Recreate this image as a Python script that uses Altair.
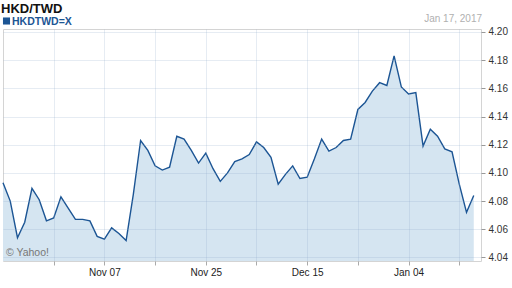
import altair as alt
import pandas as pd

FONT = "Liberation Sans"

# ---- data (one value per trading day, Oct 18 2016 .. Jan 17 2017) ----
day_index = list(range(66))
rate = [4.093, 4.080, 4.054, 4.065, 4.089, 4.081, 4.066, 4.068, 4.083, 4.075,
        4.067, 4.067, 4.066, 4.055, 4.053, 4.061, 4.057, 4.052, 4.085, 4.123,
        4.116, 4.105, 4.102, 4.104, 4.126, 4.124, 4.116, 4.107, 4.114, 4.103,
        4.094, 4.100, 4.108, 4.110, 4.113, 4.122, 4.118, 4.111, 4.092, 4.099,
        4.105, 4.096, 4.097, 4.110, 4.124, 4.1155, 4.118, 4.123, 4.124, 4.145,
        4.150, 4.158, 4.164, 4.162, 4.183, 4.161, 4.156, 4.157, 4.119, 4.131,
        4.126, 4.117, 4.115, 4.092, 4.072, 4.084]

tick_days = [7, 14, 21, 28, 35, 42, 49, 56, 63]
tick_labels = ["", "Nov 07", "", "Nov 25", "", "Dec 15", "", "Jan 04", ""]
y_ticks = [4.04, 4.06, 4.08, 4.10, 4.12, 4.14, 4.16, 4.18, 4.20]

chart_title = "HKD/TWD"
series_name = "HKDTWD=X"
last_date = "Jan 17, 2017"
credit = "\u00a9 Yahoo!"

LINE = "#1c5594"
FILL = "#d5e5f1"
GRID = "#8faac8"

df = pd.DataFrame({"day": day_index, "rate": rate})

label_expr = " : ".join(
    f"datum.value == {d} ? '{lab}'" for d, lab in zip(tick_days, tick_labels)
) + " : ''"

x = alt.X(
    "day:Q",
    scale=alt.Scale(domain=[0, 66], nice=False, zero=False),
    axis=alt.Axis(
        values=tick_days, labelExpr=label_expr, title=None, grid=True,
        gridColor=GRID, gridOpacity=0.22, domain=False, tickSize=4,
        tickColor="#aaaaaa", labelFontSize=10, labelColor="#222222",
        labelFont=FONT, labelPadding=2, zindex=1,
    ),
)
y = alt.Y(
    "rate:Q",
    scale=alt.Scale(domain=[4.0375, 4.2021], nice=False, zero=False),
    axis=alt.Axis(
        orient="right", values=y_ticks, format=".2f", title=None,
        domain=False, tickSize=4, tickColor="#999999", labelPadding=3,
        labelFontSize=10, labelColor="#333333", labelFont=FONT,
        grid=True, gridColor=GRID, gridOpacity=0.22, zindex=1,
    ),
)

area = alt.Chart(df).mark_area(color=FILL).encode(x=x, y=y, y2=alt.datum(4.0375))
line = alt.Chart(df).mark_line(color=LINE, strokeWidth=1.4).encode(x=x, y=y)

def text_layer(txt, **kw):
    return alt.Chart(pd.DataFrame({"t": [txt]})).mark_text(font=FONT, **kw).encode(
        text="t:N"
    )

title_t = text_layer(chart_title, fontSize=13, fontWeight="bold", color="#111111",
                     align="left", baseline="alphabetic").encode(
    x=alt.value(-2), y=alt.value(-16))
legend_sq = alt.Chart(pd.DataFrame({"s": [series_name]})).mark_square(
    size=50, color=LINE, opacity=1).encode(x=alt.value(3.5), y=alt.value(-8))
legend_t = text_layer(series_name, fontSize=10.5, fontWeight="bold", color=LINE,
                      align="left", baseline="alphabetic").encode(
    x=alt.value(9), y=alt.value(-4))
date_t = text_layer(last_date, fontSize=10, color="#b0b0b0", align="right",
                    baseline="alphabetic").encode(x=alt.value(479), y=alt.value(-7))
credit_t = text_layer(credit, fontSize=10.5, color="#777777", align="left",
                      baseline="alphabetic").encode(x=alt.value(3), y=alt.value(227))

chart = alt.layer(area, line, credit_t, title_t, legend_sq, legend_t, date_t).properties(
    width=478, height=232,
    autosize=alt.AutoSizeParams(type="none"),
    padding={"left": 3, "top": 29, "right": 31, "bottom": 27},
    background="white",
).configure_view(stroke="#d4d4d4")

chart.save("out.html", embed_options={"renderer": "svg", "actions": False})
